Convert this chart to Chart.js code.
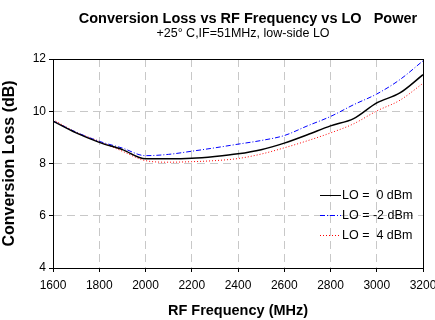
<!DOCTYPE html>
<html>
<head>
<meta charset="utf-8">
<script src="https://cdn.jsdelivr.net/npm/chart.js@4.4.0/dist/chart.umd.min.js"></script>
<style>
  html, body { margin: 0; padding: 0; background: #fff; }
  #wrap { width: 435px; height: 320px; position: relative; }
</style>
</head>
<body>
<div id="wrap"><canvas id="lossChart"></canvas></div>
<script>
// Chart data
const rfFreq = [1600, 1700, 1800, 1900, 2000, 2100, 2200, 2300, 2400, 2500, 2600, 2700, 2800, 2900, 3000, 3100, 3200];
const lo0dBm = [9.62, 9.17, 8.81, 8.53, 8.18, 8.18, 8.20, 8.27, 8.37, 8.53, 8.78, 9.10, 9.44, 9.72, 10.32, 10.70, 11.40];
const loMinus2dBm = [9.63, 9.20, 8.85, 8.59, 8.30, 8.35, 8.47, 8.60, 8.74, 8.88, 9.07, 9.44, 9.80, 10.25, 10.66, 11.21, 11.93];
const lo4dBm = [9.68, 9.20, 8.85, 8.47, 8.11, 8.05, 8.07, 8.11, 8.19, 8.36, 8.60, 8.87, 9.17, 9.52, 10.01, 10.42, 11.07];
const seriesLabels = ["LO =  0 dBm", "LO = -2 dBm", "LO =  4 dBm"];
const xTicks = [1600, 1800, 2000, 2200, 2400, 2600, 2800, 3000, 3200];
const yTicks = [4, 6, 8, 10, 12];

const titleText = "Conversion Loss vs RF Frequency vs LO   Power";
const subtitleText = "+25\u00B0 C,IF=51MHz, low-side LO";

const FONT = "Arial, 'Liberation Sans', sans-serif";

// Titles, frame and in-plot legend
const decorPlugin = {
  id: "decor",
  afterDraw(chart) {
    const ctx = chart.ctx;
    const area = chart.chartArea;
    ctx.save();
    // black frame around plot
    ctx.strokeStyle = "#000";
    ctx.lineWidth = 1;
    ctx.strokeRect(area.left + 0.5, area.top + 0.5, area.right - area.left, area.bottom - area.top);

    // titles
    ctx.fillStyle = "#000";
    ctx.textAlign = "center";
    ctx.textBaseline = "alphabetic";
    ctx.font = "bold 14.5px " + FONT;
    ctx.fillText(titleText, 248, 23);
    ctx.font = "12.5px " + FONT;
    ctx.fillText(subtitleText, 243, 37);

    // legend
    const rows = [195, 215, 235];
    chart.data.datasets.forEach((ds, i) => {
      const y = rows[i];
      ctx.beginPath();
      ctx.strokeStyle = ds.borderColor;
      ctx.lineWidth = i === 0 ? 1 : ds.borderWidth;
      ctx.setLineDash(ds.borderDash || []);
      ctx.moveTo(320, y + 0.5);
      ctx.lineTo(341, y + 0.5);
      ctx.stroke();
      ctx.setLineDash([]);
      ctx.fillStyle = "#000";
      ctx.font = "12.5px " + FONT;
      ctx.textAlign = "left";
      ctx.textBaseline = "middle";
      ctx.fillText(ds.label, 342, y + 1);
    });
    ctx.restore();
  }
};

function makeDataset(label, values, color, width, dash) {
  return {
    label: label,
    data: rfFreq.map((f, i) => ({ x: f, y: values[i] })),
    borderColor: color,
    borderWidth: width,
    borderDash: dash,
    pointRadius: 0,
    cubicInterpolationMode: "monotone",
    fill: false
  };
}

new Chart(document.getElementById("lossChart"), {
  type: "line",
  data: {
    datasets: [
      makeDataset(seriesLabels[0], lo0dBm, "#000000", 1.5, []),
      makeDataset(seriesLabels[1], loMinus2dBm, "#0000ff", 1, [5, 2, 1, 2]),
      makeDataset(seriesLabels[2], lo4dBm, "#ff0000", 1, [1, 2])
    ]
  },
  options: {
    responsive: true,
    maintainAspectRatio: false,
    animation: false,
    layout: { padding: { top: 59, right: 12, left: 0, bottom: 0 } },
    plugins: {
      legend: { display: false },
      tooltip: { enabled: false }
    },
    scales: {
      x: {
        type: "linear",
        min: 1600,
        max: 3200,
        afterBuildTicks: (s) => { s.ticks = xTicks.map(v => ({ value: v })); },
        afterFit: (s) => { s.height = 52; s.paddingLeft = 0; s.paddingRight = 0; },
        grid: {
          color: "#c8c8c8",
          lineWidth: 1,
          tickColor: "#000",
          tickLength: 4,
          tickBorderDash: []
        },
        border: { color: "#000", width: 1, dash: [8, 5] },
        ticks: {
          color: "#000",
          font: { family: FONT, size: 12 },
          padding: 6,
          maxRotation: 0,
          autoSkip: false,
          callback: (v) => String(v)
        },
        title: {
          display: true,
          text: "RF Frequency (MHz)",
          color: "#000",
          font: { family: FONT, size: 14.5, weight: "bold" },
          padding: { top: 3, bottom: 0 }
        }
      },
      y: {
        min: 4,
        max: 12,
        afterBuildTicks: (s) => { s.ticks = yTicks.map(v => ({ value: v })); },
        afterFit: (s) => { s.width = 53; },
        grid: {
          color: "#c8c8c8",
          lineWidth: 1,
          tickColor: "#000",
          tickLength: 4,
          tickBorderDash: []
        },
        border: { color: "#000", width: 1, dash: [8, 5] },
        ticks: {
          color: "#000",
          font: { family: FONT, size: 12 },
          padding: 3,
          callback: (v) => String(v)
        },
        title: {
          display: true,
          text: "Conversion Loss (dB)",
          color: "#000",
          font: { family: FONT, size: 16, weight: "bold" },
          padding: { top: 0, bottom: 1 }
        }
      }
    }
  },
  plugins: [decorPlugin]
});
</script>
</body>
</html>
